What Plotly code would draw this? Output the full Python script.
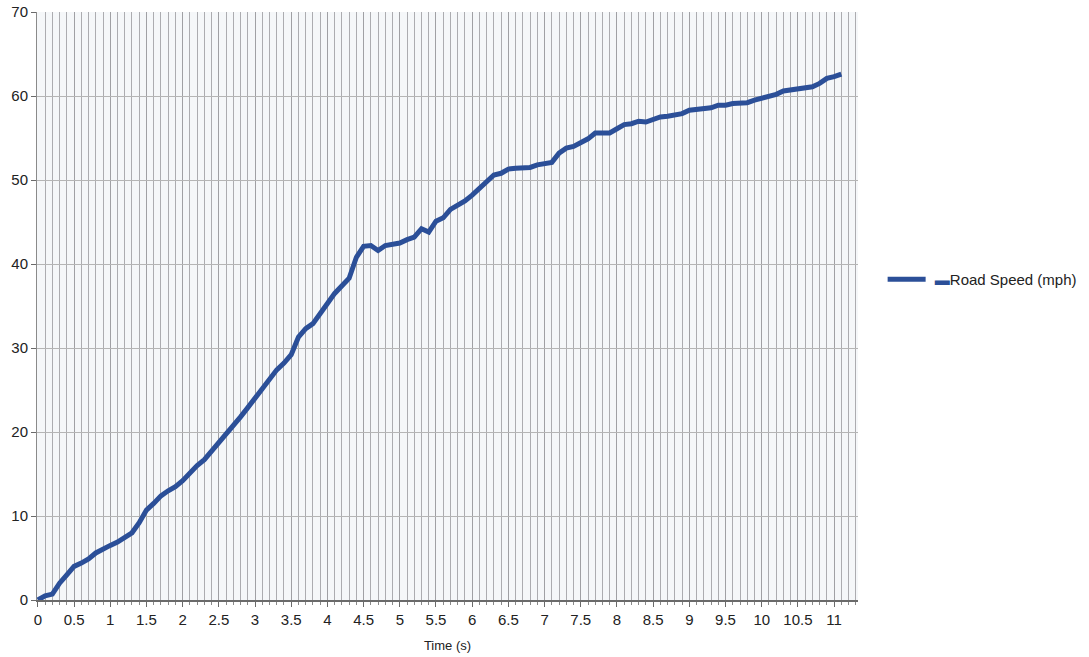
import plotly.graph_objects as go

# Road speed sampled every 0.1 s
time_s = [round(i * 0.1, 1) for i in range(112)]
speed_mph = [
    0.0, 0.5, 0.7, 2.0, 3.0, 4.0, 4.4, 4.9, 5.6, 6.1,
    6.5, 6.9, 7.4, 8.0, 9.2, 10.7, 11.5, 12.4, 13.0, 13.5,
    14.2, 15.2, 16.0, 16.7, 17.7, 18.8, 19.6, 20.6, 21.8, 22.9,
    24.0, 25.2, 26.2, 27.4, 28.2, 29.2, 31.3, 32.3, 32.9, 34.2,
    35.3, 36.5, 37.5, 38.3, 40.8, 42.1, 42.2, 41.6, 42.2, 42.4,
    42.5, 42.9, 43.2, 44.2, 43.8, 45.1, 45.5, 46.5, 47.0, 47.5,
    48.2, 49.0, 50.0, 50.6, 50.8, 51.3, 51.4, 51.4, 51.5, 51.8,
    51.9, 52.1, 53.2, 53.8, 54.0, 54.5, 54.9, 55.6, 55.6, 55.6,
    56.1, 56.6, 56.7, 57.0, 56.9, 57.2, 57.5, 57.6, 57.8, 57.9,
    58.3, 58.4, 58.5, 58.6, 58.9, 58.9, 59.1, 59.1, 59.2, 59.5,
    59.7, 60.0, 60.2, 60.6, 60.7, 60.8, 61.0, 61.1, 61.5, 62.1,
    62.3, 62.6,
]

x_tick_vals = [i * 0.5 for i in range(23)]
x_tick_text = ["0", "0.5", "1", "1.5", "2", "2.5", "3", "3.5", "4", "4.5", "5",
               "5.5", "6", "6.5", "7", "7.5", "8", "8.5", "9", "9.5", "10",
               "10.5", "11"]

line_color = "#2b4f98"

fig = go.Figure()
fig.add_trace(go.Scatter(
    x=time_s, y=speed_mph, mode="lines",
    line=dict(color=line_color, width=5),
    name='&nbsp;<span style="color:#2b4f98">▬</span>Road Speed (mph)',
))

font_family = "Liberation Sans, Arial, sans-serif"

fig.update_layout(
    width=1089, height=657,
    margin=dict(l=37, r=231, t=12, b=57, autoexpand=False),
    paper_bgcolor="white",
    plot_bgcolor="#f5f7f9",
    font=dict(family=font_family, size=15, color="#222222"),
    showlegend=True,
    legend=dict(x=1.03, y=0.545, xanchor="left", yanchor="middle",
                font=dict(size=15, color="#222222"), itemwidth=38,
                bgcolor="rgba(0,0,0,0)"),
    xaxis=dict(
        range=[-0.012, 11.33],
        tickmode="array", tickvals=x_tick_vals, ticktext=x_tick_text,
        showgrid=True, gridcolor="#a0a0a4", gridwidth=1,
        ticks="outside", ticklen=5, tickcolor="#6a6a6a",
        showline=True, linecolor="#6a6a6a", linewidth=2,
        minor=dict(dtick=0.1, tick0=0, showgrid=True, gridcolor="#acacb0",
                   gridwidth=1, ticks="outside", ticklen=3, tickcolor="#8a8a8a"),
        title=dict(text="Time (s)", font=dict(size=13), standoff=14),
        zeroline=False, automargin=False,
    ),
    yaxis=dict(
        range=[0, 70], dtick=10,
        showgrid=True, gridcolor="#b5b5b5", gridwidth=1,
        ticks="outside", ticklen=5, tickcolor="#6a6a6a",
        showline=True, linecolor="#8a8a8a", linewidth=1,
        zeroline=False, automargin=False,
    ),
)

fig.write_html("out.html")
